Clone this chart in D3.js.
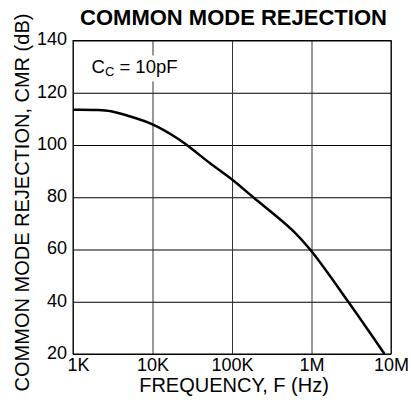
<!DOCTYPE html>
<html>
<head>
<meta charset="utf-8">
<script src="https://cdn.jsdelivr.net/npm/d3@7"></script>
<style>
  body { margin: 0; background: #fff; }
  text { font-family: "Liberation Sans", Arial, sans-serif; fill: #000; }
</style>
</head>
<body>
<div id="chart"></div>
<script>
// curve
const freqHz = [1e3, 2e3, 3e3, 5e3, 1e4, 2e4, 2.7e4, 5.3e4, 1e5, 1.85e5, 5.65e5, 1e6, 2.9e6, 8.3e6];
const cmrDb  = [113.5, 113.4, 112.9, 111.1, 107.9, 102.8, 100, 93, 86.8, 80, 67.6, 59.3, 40, 20];

const xTicks = [1e3, 1e4, 1e5, 1e6, 1e7];
const xTickLabels = ['1K', '10K', '100K', '1M', '10M'];
const yTicks = [20, 40, 60, 80, 100, 120, 140];

const margin = { top: 40.5, right: 20, bottom: 49, left: 73 };
const W = 411, H = 403;
const width = W - margin.left - margin.right;
const height = H - margin.top - margin.bottom;

const x = d3.scaleLog().domain([1e3, 1e7]).range([0, width]);
const y = d3.scaleLinear().domain([20, 140]).range([height, 0]);

const svg = d3.select('#chart')
    .append('svg')
    .attr('width', W)
    .attr('height', H);

// title
svg.append('text')
    .attr('x', 233.5)
    .attr('y', 25)
    .attr('text-anchor', 'middle')
    .style('font-size', '22px')
    .style('font-weight', 'bold')
    .text('COMMON MODE REJECTION');

const g = svg.append('g')
    .attr('transform', `translate(${margin.left},${margin.top})`);

// y axis + horizontal grid
const yAxis = g.append('g')
    .call(d3.axisLeft(y)
        .tickValues(yTicks)
        .tickSizeInner(-width)
        .tickSizeOuter(0)
        .tickPadding(6));
yAxis.select('.domain').remove();
yAxis.selectAll('line').attr('stroke', '#000').attr('stroke-width', 1);
yAxis.selectAll('text').style('font-size', '18px').attr('fill', '#000').attr('dy', '0.24em');

// x axis + vertical grid
const xAxis = g.append('g')
    .attr('transform', `translate(0,${height})`)
    .call(d3.axisBottom(x)
        .tickValues(xTicks)
        .tickFormat((d, i) => xTickLabels[i])
        .tickSizeInner(-height)
        .tickSizeOuter(0)
        .tickPadding(4));
xAxis.select('.domain').remove();
xAxis.selectAll('line').attr('stroke', '#333').attr('stroke-width', 1);
xAxis.selectAll('text').style('font-size', '18px').attr('fill', '#000');
// first label sits a little right of its gridline, clear of the "20"
xAxis.selectAll('text').filter((d, i) => i === 0)
    .attr('text-anchor', 'start')
    .attr('x', -6);

// frame
g.append('rect')
    .attr('width', width)
    .attr('height', height)
    .attr('fill', 'none')
    .attr('stroke', '#000')
    .attr('stroke-width', 1);

// annotation, with white box over the grid
const note = g.append('g').attr('transform', `translate(${x(1e3) + 18.5},${y(127.4)})`);
note.append('rect')
    .attr('x', -4).attr('y', -18)
    .attr('width', 96).attr('height', 26)
    .attr('fill', '#fff');
const noteText = note.append('text').style('font-size', '18.5px');
noteText.append('tspan').text('C');
noteText.append('tspan').attr('dy', 3).style('font-size', '13px').text('C');
noteText.append('tspan').attr('dy', -3).text(' = 10pF');

// curve
const line = d3.line()
    .x((d, i) => x(freqHz[i]))
    .y(d => y(d))
    .curve(d3.curveCatmullRom.alpha(0.5));

g.append('path')
    .datum(cmrDb)
    .attr('fill', 'none')
    .attr('stroke', '#000')
    .attr('stroke-width', 2.5)
    .attr('d', line);

// axis titles
svg.append('text')
    .attr('x', 234)
    .attr('y', 392)
    .attr('text-anchor', 'middle')
    .style('font-size', '20px')
    .text('FREQUENCY, F (Hz)');

svg.append('text')
    .attr('transform', 'translate(28.5,202.5) rotate(-90)')
    .attr('text-anchor', 'middle')
    .style('font-size', '20px')
    .text('COMMON MODE REJECTION, CMR (dB)');
</script>
</body>
</html>
